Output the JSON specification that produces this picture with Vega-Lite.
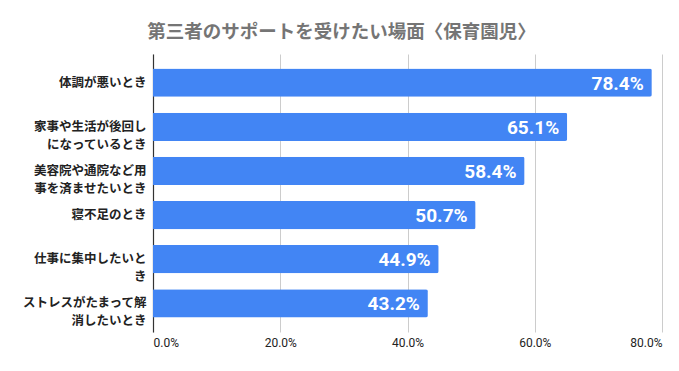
{
  "$schema": "https://vega.github.io/schema/vega-lite/v6.json",
  "autosize": {"type": "none"},
  "width": 509,
  "height": 278,
  "padding": {"left": 153, "top": 54, "right": 17, "bottom": 39},
  "background": "white",
  "title": {
    "text": "第三者のサポートを受けたい場面〈保育園児〉",
    "font": "Noto Sans CJK JP",
    "fontSize": 18.5,
    "fontWeight": "bold",
    "color": "#757575",
    "anchor": "middle",
    "frame": "group",
    "dx": -66,
    "offset": 13
  },
  "data": {
    "values": [
      {"label": "体調が悪いとき", "value": 78.4},
      {"label": "家事や生活が後回し\nになっているとき", "value": 65.1},
      {"label": "美容院や通院など用\n事を済ませたいとき", "value": 58.4},
      {"label": "寝不足のとき", "value": 50.7},
      {"label": "仕事に集中したいと\nき", "value": 44.9},
      {"label": "ストレスがたまって解\n消したいとき", "value": 43.2}
    ]
  },
  "transform": [
    {"calculate": "format(datum.value, '.1f') + '%'", "as": "valueText"}
  ],
  "encoding": {
    "y": {
      "field": "label",
      "type": "nominal",
      "sort": null,
      "title": null,
      "scale": {"paddingInner": 0.36, "paddingOuter": 0.33},
      "axis": {
        "labelExpr": "split(datum.value, '\\n')",
        "labelFont": "Noto Sans CJK JP",
        "labelFontSize": 12.5,
        "labelFontWeight": "bold",
        "labelColor": "#222222",
        "labelLineHeight": 18,
        "labelPadding": 7,
        "ticks": false,
        "domain": true,
        "domainColor": "#333333",
        "domainWidth": 1.2,
        "grid": false
      }
    },
    "x": {
      "field": "value",
      "type": "quantitative",
      "title": null,
      "scale": {"domain": [0, 80], "nice": false},
      "axis": {
        "values": [0, 20, 40, 60, 80],
        "labelExpr": "format(datum.value, '.1f') + '%'",
        "labelFont": "Roboto",
        "labelFontSize": 12,
        "labelColor": "#222222",
        "labelPadding": 5,
        "domain": false,
        "ticks": false,
        "grid": true,
        "gridColor": "#cccccc",
        "gridWidth": 1
      }
    }
  },
  "layer": [
    {
      "mark": {"type": "bar", "color": "#4285F4", "cornerRadiusEnd": 2}
    },
    {
      "mark": {
        "type": "text",
        "align": "right",
        "baseline": "middle",
        "dx": -8,
        "dy": 1,
        "font": "Roboto",
        "fontSize": 19,
        "fontWeight": "bold",
        "color": "white"
      },
      "encoding": {
        "text": {"field": "valueText", "type": "nominal"}
      }
    }
  ],
  "config": {"view": {"stroke": null}}
}
